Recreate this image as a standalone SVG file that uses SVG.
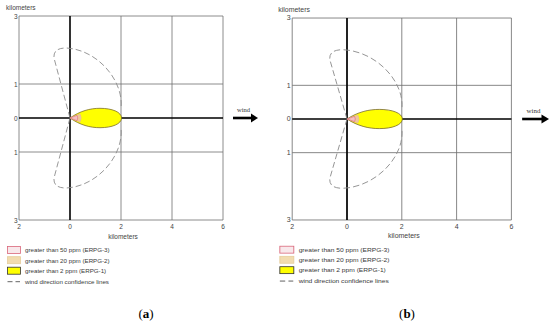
<svg xmlns="http://www.w3.org/2000/svg" xmlns:xlink="http://www.w3.org/1999/xlink" width="550" height="324" viewBox="0 0 550 324">
<style>
.grid{stroke:#6e6e6e;stroke-width:0.8;fill:none}
.axis{stroke:#000;stroke-width:1.6;fill:none}
.lobe{stroke:#8c8c8c;stroke-width:0.9;fill:none;stroke-dasharray:6 3}
.num{font-family:"Liberation Sans",Arial,sans-serif;font-size:6.5px;fill:#444}
.leg{font-family:"Liberation Sans",Arial,sans-serif;font-size:6.2px;fill:#3a3a3a}
.wind{font-family:"Liberation Serif","Times New Roman",serif;font-size:6.5px;fill:#333}
.cap{font-family:"Liberation Serif","Times New Roman",serif;font-size:13px;fill:#000}
.e1{fill:#ffff00;stroke:#7d6f2a;stroke-width:0.8}
.e2{fill:#efc79a;stroke:#e0b888;stroke-width:0.5}
.e3{fill:#f4c0c0;stroke:#d9667a;stroke-width:0.6}
.b1{fill:#ffff00;stroke:#333;stroke-width:0.8}
.b2{fill:#f2dcb0;stroke:#e6cd9c;stroke-width:0.8}
.b3{fill:#f8e8eb;stroke:#d9667a;stroke-width:0.8}
</style>
<defs>
<g id="plot">
  <g id="grid">
    <path class="grid" d="M19,16H223V220H19Z M121,16V220 M172,16V220 M19,84H223 M19,152H223"/>
    <path class="axis" d="M19,118H223 M70,16V220"/>
  </g>
  <g id="confidence">
    <path class="lobe" d="M70,118 L54,58 Q53,48 66,48 C90,49 112,68 119,90 Q122,100 121,108"/>
    <path class="lobe" d="M70,118 L54,178 Q53,188 66,188 C90,187 112,168 119,146 Q122,136 121,128"/>
  </g>
  <g id="plume">
    <path class="e1" d="M70,118 C80,111 90,108.3 100,108.3 C112,108.3 121.5,112 121.5,118 C121.5,124 112,127.7 100,127.7 C90,127.7 80,125 70,118Z"/>
    <path class="e2" d="M70,118 L80,113.8 Q82.5,118 80,122.2Z"/>
    <path class="e3" d="M70,118 L77,115.3 Q78.5,118 77,120.7Z"/>
  </g>
  <g id="labels">
    <text class="num" x="6" y="9.5">kilometers</text>
    <text class="num" x="17.5" y="18.5" text-anchor="end">3</text>
    <text class="num" x="17.5" y="86.5" text-anchor="end">1</text>
    <text class="num" x="17.5" y="120.5" text-anchor="end">0</text>
    <text class="num" x="17.5" y="154.5" text-anchor="end">1</text>
    <text class="num" x="17.5" y="222.5" text-anchor="end">3</text>
    <text class="num" x="19" y="229" text-anchor="middle">2</text>
    <text class="num" x="70" y="229" text-anchor="middle">0</text>
    <text class="num" x="121" y="229" text-anchor="middle">2</text>
    <text class="num" x="172" y="229" text-anchor="middle">4</text>
    <text class="num" x="223" y="229" text-anchor="middle">6</text>
    <text class="num" x="123" y="238.5" text-anchor="middle">kilometers</text>
  </g>
  <g id="wind">
    <text class="wind" x="237" y="112">wind</text>
    <path d="M233,118H252" stroke="#000" stroke-width="2.6"/>
    <path d="M251,113.5L258,118L251,122.5Z" fill="#000"/>
  </g>
  <g id="legend">
    <rect class="b3" x="7.5" y="246.5" width="13" height="7"/>
    <text class="leg" x="25" y="252.3">greater than 50 ppm (ERPG-3)</text>
    <rect class="b2" x="7.5" y="256.7" width="13" height="7"/>
    <text class="leg" x="25" y="262.5">greater than 20 ppm (ERPG-2)</text>
    <rect class="b1" x="7.5" y="267.2" width="13" height="7"/>
    <text class="leg" x="25" y="273">greater than 2 ppm (ERPG-1)</text>
    <path d="M7.5,281.7H20" stroke="#555" stroke-width="0.9" stroke-dasharray="5 3"/>
    <text class="leg" x="25" y="284">wind direction confidence lines</text>
  </g>
</g>
</defs>
<g id="panel-a">
  <use xlink:href="#plot"/>
  <text class="cap" x="146" y="318" text-anchor="middle">(<tspan font-weight="bold">a</tspan>)</text>
</g>
<g id="panel-b">
  <use xlink:href="#plot" transform="translate(347,119) scale(1.0745,0.99) translate(-70,-118)"/>
  <text class="cap" x="407" y="318" text-anchor="middle">(<tspan font-weight="bold">b</tspan>)</text>
</g>
</svg>
